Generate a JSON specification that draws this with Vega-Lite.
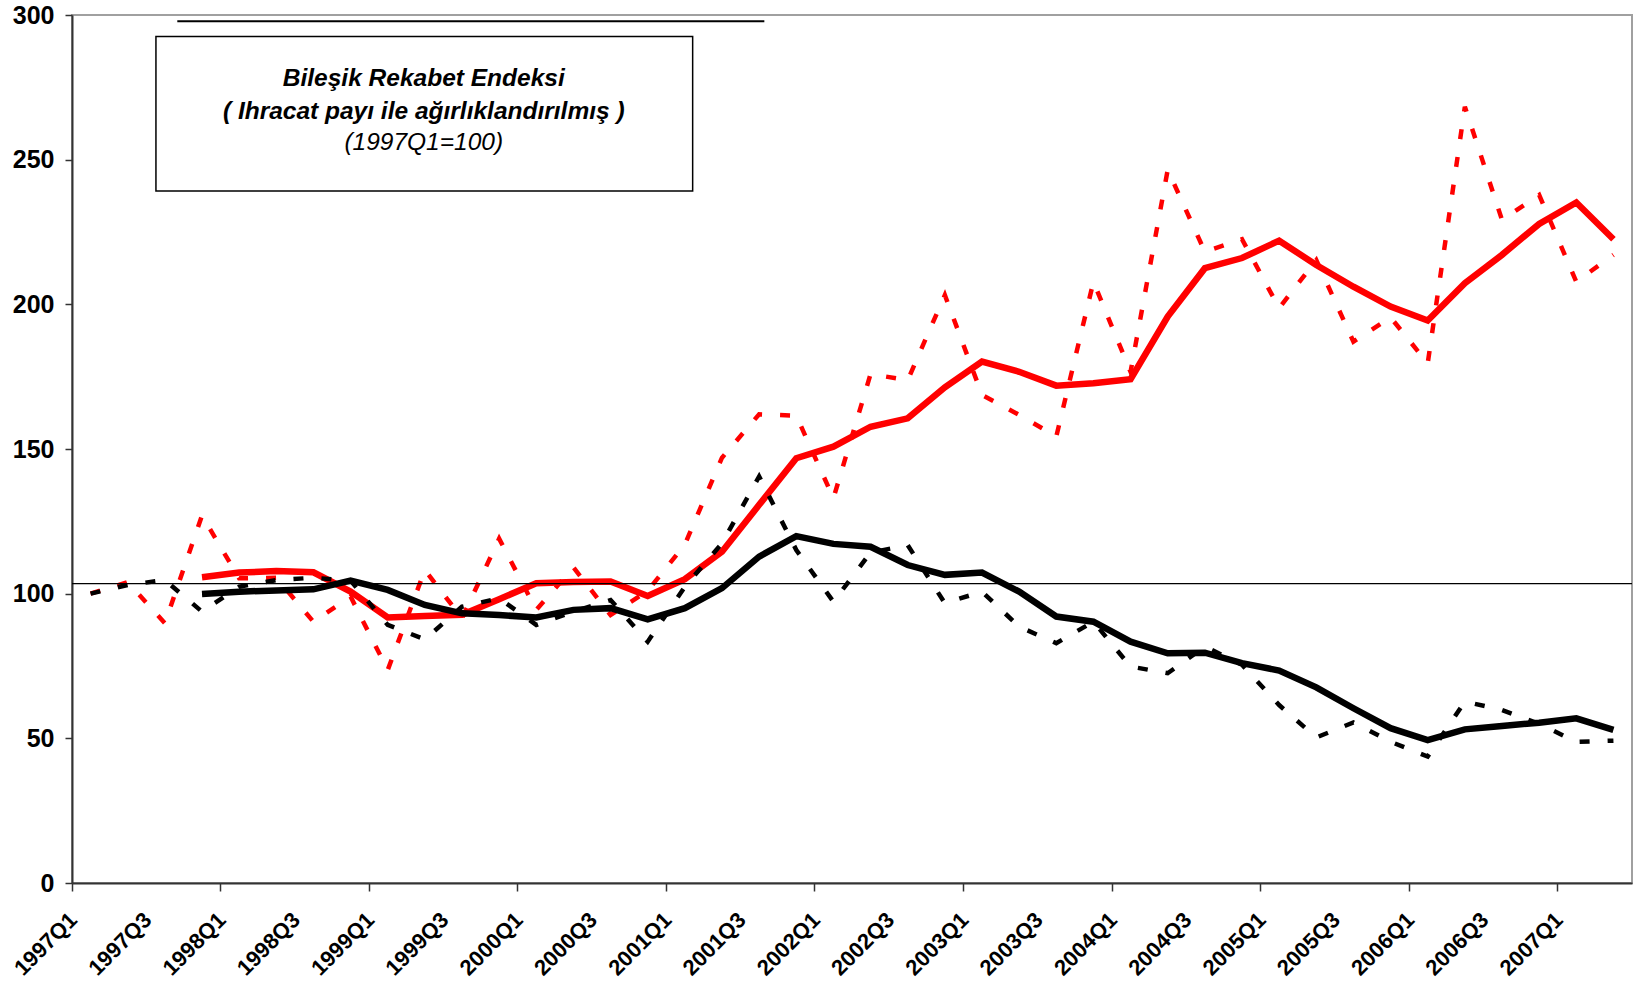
{
  "$schema": "https://vega.github.io/schema/vega-lite/v6.json",
  "width": 1560,
  "height": 868,
  "autosize": "none",
  "padding": {"left": 72, "top": 15, "right": 3, "bottom": 110},
  "config": {
    "view": {"stroke": "#a0a0a0", "strokeWidth": 2},
    "font": "Liberation Sans"
  },
  "datasets": {
    "series": [
      {"q": "1997Q1", "rq": 100, "bq": 100},
      {"q": "1997Q2", "rq": 104, "bq": 103},
      {"q": "1997Q3", "rq": 89.8, "bq": 104.7},
      {"q": "1997Q4", "rq": 127, "rm": 105.7, "bq": 93.8, "bm": 99.9},
      {"q": "1998Q1", "rq": 105.3, "rm": 107.3, "bq": 102.4, "bm": 100.7},
      {"q": "1998Q2", "rq": 105.5, "rm": 107.8, "bq": 104.7, "bm": 101.1},
      {"q": "1998Q3", "rq": 90.3, "rm": 107.4, "bq": 105.5, "bm": 101.5},
      {"q": "1998Q4", "rq": 99, "rm": 100.7, "bq": 104.5, "bm": 104.5},
      {"q": "1999Q1", "rq": 73.6, "rm": 91.8, "bq": 89.2, "bm": 101.3},
      {"q": "1999Q2", "rq": 108.2, "rm": 92.3, "bq": 84.2, "bm": 96.1},
      {"q": "1999Q3", "rq": 91.5, "rm": 92.7, "bq": 95.5, "bm": 93.2},
      {"q": "1999Q4", "rq": 119, "rm": 98.1, "bq": 98.4, "bm": 92.6},
      {"q": "2000Q1", "rq": 94.4, "rm": 103.6, "bq": 89.2, "bm": 91.8},
      {"q": "2000Q2", "rq": 109.1, "rm": 104, "bq": 93.8, "bm": 94.4},
      {"q": "2000Q3", "rq": 92.6, "rm": 104.2, "bq": 97.8, "bm": 95},
      {"q": "2000Q4", "rq": 101, "rm": 99.2, "bq": 83.4, "bm": 91.1},
      {"q": "2001Q1", "rq": 117, "rm": 105, "bq": 102.4, "bm": 95},
      {"q": "2001Q2", "rq": 147, "rm": 114.5, "bq": 117.4, "bm": 101.9},
      {"q": "2001Q3", "rq": 162, "rm": 130.7, "bq": 140.5, "bm": 112.8},
      {"q": "2001Q4", "rq": 161.5, "rm": 146.8, "bq": 115.1, "bm": 119.9},
      {"q": "2002Q1", "rq": 133, "rm": 150.8, "bq": 97.2, "bm": 117.2},
      {"q": "2002Q2", "rq": 175.9, "rm": 157.7, "bq": 114.2, "bm": 116.2},
      {"q": "2002Q3", "rq": 173.8, "rm": 160.6, "bq": 116.8, "bm": 109.9},
      {"q": "2002Q4", "rq": 203.2, "rm": 171.3, "bq": 96.7, "bm": 106.5},
      {"q": "2003Q1", "rq": 168.7, "rm": 180.2, "bq": 100.7, "bm": 107.3},
      {"q": "2003Q2", "rq": 161.8, "rm": 176.7, "bq": 88.6, "bm": 100.7},
      {"q": "2003Q3", "rq": 154.3, "rm": 171.9, "bq": 82.9, "bm": 92.1},
      {"q": "2003Q4", "rq": 207.8, "rm": 172.7, "bq": 90.3, "bm": 90.3},
      {"q": "2004Q1", "rq": 176.7, "rm": 174.1, "bq": 74.8, "bm": 83.4},
      {"q": "2004Q2", "rq": 246.5, "rm": 195.8, "bq": 72.5, "bm": 79.4},
      {"q": "2004Q3", "rq": 218.2, "rm": 212.5, "bq": 81.7, "bm": 79.6},
      {"q": "2004Q4", "rq": 222.5, "rm": 216, "bq": 75.4, "bm": 76},
      {"q": "2005Q1", "rq": 198.7, "rm": 222, "bq": 61.5, "bm": 73.4},
      {"q": "2005Q2", "rq": 215.3, "rm": 213.6, "bq": 50.3, "bm": 67.6},
      {"q": "2005Q3", "rq": 187.1, "rm": 206.1, "bq": 55.5, "bm": 60.4},
      {"q": "2005Q4", "rq": 195.5, "rm": 199.2, "bq": 48.8, "bm": 53.5},
      {"q": "2006Q1", "rq": 179.6, "rm": 194.4, "bq": 43.7, "bm": 49.4},
      {"q": "2006Q2", "rq": 268.3, "rm": 207.3, "bq": 62.7, "bm": 53.1},
      {"q": "2006Q3", "rq": 229.2, "rm": 217.1, "bq": 59.8, "bm": 54.3},
      {"q": "2006Q4", "rq": 237.8, "rm": 227.8, "bq": 55, "bm": 55.4},
      {"q": "2007Q1", "rq": 207.8, "rm": 235.2, "bq": 48.8, "bm": 56.9},
      {"q": "2007Q2", "rq": 217.1, "rm": 222.5, "bq": 49.2, "bm": 52.9}
    ],
    "ref": [{"level": 103.5}],
    "box": [{"x1": 2.26, "x2": 16.71, "y1": 292.6, "y2": 239.2}],
    "topline": [{"x1": 2.835, "x2": 18.64, "y": 297.8}],
    "boldtext": [
      {"tx": 9.47, "ty": 275.6, "label": "Bileşik Rekabet Endeksi"},
      {"tx": 9.47, "ty": 264.1, "label": "( Ihracat payı ile ağırlıklandırılmış )"}
    ],
    "plaintext": [
      {"tx": 9.47, "ty": 253.4, "label": "(1997Q1=100)"}
    ]
  },
  "layer": [
    {
      "layer": [
        {
          "data": {"name": "series"},
          "mark": {"type": "line", "color": "#ff0000", "strokeWidth": 4.5, "strokeDash": [10, 18], "strokeCap": "butt"},
          "encoding": {
            "x": {"field": "q", "type": "ordinal", "bandPosition": 0.5,
              "scale": {"type": "band", "paddingInner": 0, "paddingOuter": 0, "align": 0,
                "domain": ["1997Q1","1997Q2","1997Q3","1997Q4","1998Q1","1998Q2","1998Q3","1998Q4","1999Q1","1999Q2","1999Q3","1999Q4","2000Q1","2000Q2","2000Q3","2000Q4","2001Q1","2001Q2","2001Q3","2001Q4","2002Q1","2002Q2","2002Q3","2002Q4","2003Q1","2003Q2","2003Q3","2003Q4","2004Q1","2004Q2","2004Q3","2004Q4","2005Q1","2005Q2","2005Q3","2005Q4","2006Q1","2006Q2","2006Q3","2006Q4","2007Q1","2007Q2"]},
              "axis": {
                "title": null,
                "values": ["1997Q1","1997Q3","1998Q1","1998Q3","1999Q1","1999Q3","2000Q1","2000Q3","2001Q1","2001Q3","2002Q1","2002Q3","2003Q1","2003Q3","2004Q1","2004Q3","2005Q1","2005Q3","2006Q1","2006Q3","2007Q1"],
                "bandPosition": 0,
                "domainColor": "#333333", "domainWidth": 2,
                "tickColor": "#333333", "tickWidth": 1.5, "tickSize": 8,
                "tickOpacity": {"condition": {"test": "indexof(datum.value, 'Q1') >= 0", "value": 1}, "value": 0},
                "labelAngle": -45, "labelAlign": "right", "labelBaseline": "middle",
                "labelFont": "Liberation Sans", "labelFontSize": 22, "labelFontWeight": "bold", "labelColor": "#000000",
                "labelPadding": 25, "labelOffset": -17,
                "labelOverlap": false, "labelBound": false, "labelFlush": false
              }
            },
            "y": {"field": "rq", "type": "quantitative",
              "scale": {"domain": [0, 300], "nice": false},
              "axis": {"title": null, "values": [0, 50, 100, 150, 200, 250, 300], "grid": false,
                "domainColor": "#333333", "domainWidth": 2, "tickColor": "#333333", "tickWidth": 1.5, "tickSize": 7,
                "labelFont": "Liberation Sans", "labelFontSize": 25, "labelFontWeight": "bold", "labelColor": "#000000", "labelPadding": 11}
            }
          }
        },
        {
          "data": {"name": "series"},
          "mark": {"type": "line", "color": "#ff0000", "strokeWidth": 6.5},
          "encoding": {
            "x": {"field": "q", "type": "ordinal", "bandPosition": 0.5},
            "y": {"field": "rm", "type": "quantitative"}
          }
        },
        {
          "data": {"name": "series"},
          "mark": {"type": "line", "color": "#000000", "strokeWidth": 4.5, "strokeDash": [10, 18], "strokeCap": "butt"},
          "encoding": {
            "x": {"field": "q", "type": "ordinal", "bandPosition": 0.5},
            "y": {"field": "bq", "type": "quantitative"}
          }
        },
        {
          "data": {"name": "series"},
          "mark": {"type": "line", "color": "#000000", "strokeWidth": 6.5},
          "encoding": {
            "x": {"field": "q", "type": "ordinal", "bandPosition": 0.5},
            "y": {"field": "bm", "type": "quantitative"}
          }
        },
        {
          "data": {"name": "ref"},
          "mark": {"type": "rule", "color": "#000000", "strokeWidth": 1.3},
          "encoding": {
            "y": {"field": "level", "type": "quantitative"}
          }
        }
      ]
    },
    {
      "layer": [
        {
          "data": {"name": "box"},
          "mark": {"type": "rect", "fill": "#ffffff", "stroke": "#000000", "strokeWidth": 1.5},
          "encoding": {
            "x": {"field": "x1", "type": "quantitative", "scale": {"domain": [0, 42], "nice": false, "zero": false}, "axis": null},
            "x2": {"field": "x2"},
            "y": {"field": "y1", "type": "quantitative"},
            "y2": {"field": "y2"}
          }
        },
        {
          "data": {"name": "topline"},
          "mark": {"type": "rule", "color": "#000000", "strokeWidth": 2},
          "encoding": {
            "x": {"field": "x1", "type": "quantitative", "axis": null},
            "x2": {"field": "x2"},
            "y": {"field": "y", "type": "quantitative"}
          }
        },
        {
          "data": {"name": "boldtext"},
          "mark": {"type": "text", "font": "Liberation Sans", "fontSize": 24.5, "fontWeight": "bold", "fontStyle": "italic", "align": "center", "baseline": "alphabetic", "color": "#000000"},
          "encoding": {
            "x": {"field": "tx", "type": "quantitative", "axis": null},
            "y": {"field": "ty", "type": "quantitative"},
            "text": {"field": "label"}
          }
        },
        {
          "data": {"name": "plaintext"},
          "mark": {"type": "text", "font": "Liberation Sans", "fontSize": 24.5, "fontStyle": "italic", "align": "center", "baseline": "alphabetic", "color": "#000000"},
          "encoding": {
            "x": {"field": "tx", "type": "quantitative", "axis": null},
            "y": {"field": "ty", "type": "quantitative"},
            "text": {"field": "label"}
          }
        }
      ]
    }
  ],
  "resolve": {"scale": {"x": "independent"}}
}
